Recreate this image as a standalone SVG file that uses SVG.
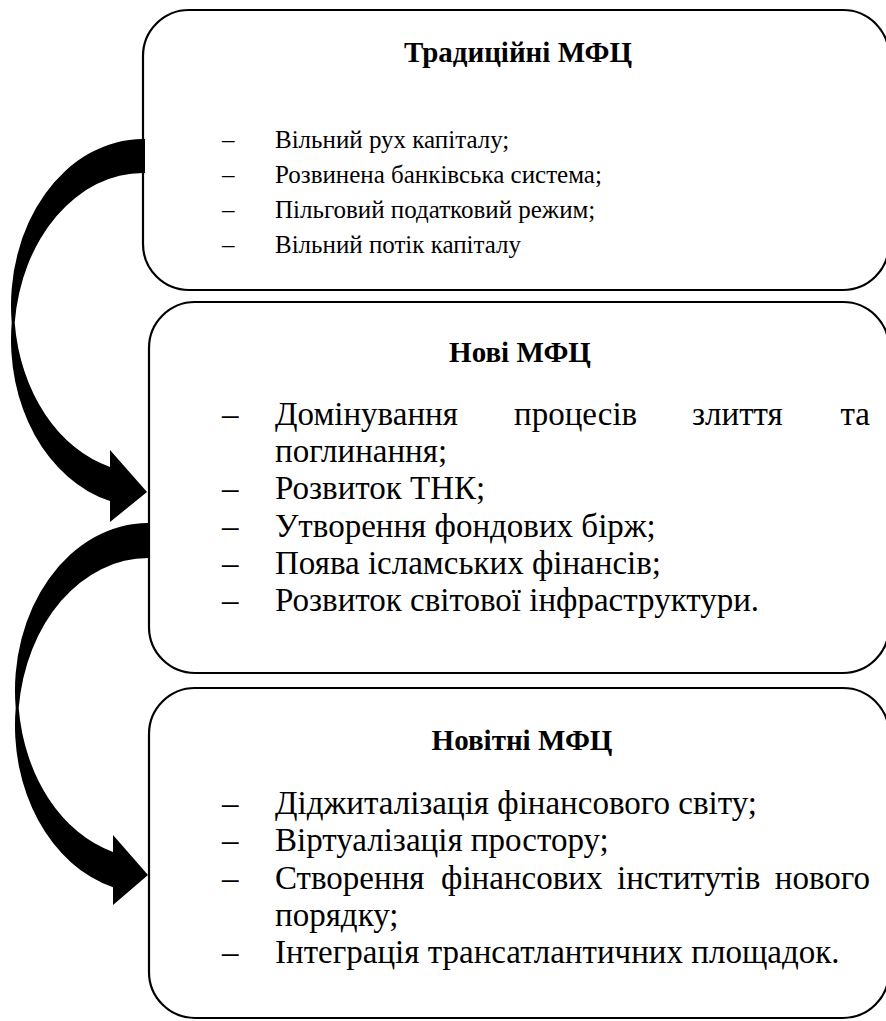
<svg xmlns="http://www.w3.org/2000/svg" width="886" height="1021" viewBox="0 0 886 1021">
<rect width="886" height="1021" fill="#fff"/>
<g id="node-traditional">
<rect x="143" y="10" width="746" height="280" rx="46" ry="46" fill="#fff" stroke="#000" stroke-width="2.2"/>
<text font-family="'Liberation Serif', serif" font-size="29" font-weight="bold" text-anchor="middle" x="518" y="62">Традиційні МФЦ</text>
<text font-family="'Liberation Serif', serif" font-size="25" x="222" y="148">–</text><text font-family="'Liberation Serif', serif" font-size="25" x="275" y="148">Вільний рух капіталу;</text>
<text font-family="'Liberation Serif', serif" font-size="25" x="222" y="183">–</text><text font-family="'Liberation Serif', serif" font-size="25" x="275" y="183">Розвинена банківська система;</text>
<text font-family="'Liberation Serif', serif" font-size="25" x="222" y="218">–</text><text font-family="'Liberation Serif', serif" font-size="25" x="275" y="218">Пільговий податковий режим;</text>
<text font-family="'Liberation Serif', serif" font-size="25" x="222" y="253">–</text><text font-family="'Liberation Serif', serif" font-size="25" x="275" y="253">Вільний потік капіталу</text>
</g>
<g id="node-new">
<rect x="149" y="302" width="740" height="371" rx="46" ry="46" fill="#fff" stroke="#000" stroke-width="2.2"/>
<text font-family="'Liberation Serif', serif" font-size="29" font-weight="bold" text-anchor="middle" x="520" y="362">Нові МФЦ</text>
<text font-family="'Liberation Serif', serif" font-size="33" x="222" y="425">–</text>
<text font-family="'Liberation Serif', serif" font-size="33" x="275" y="425">Домінування</text>
<text font-family="'Liberation Serif', serif" font-size="33" x="514" y="425">процесів</text>
<text font-family="'Liberation Serif', serif" font-size="33" x="692" y="425">злиття</text>
<text font-family="'Liberation Serif', serif" font-size="33" text-anchor="end" x="870" y="425">та</text>
<text font-family="'Liberation Serif', serif" font-size="33" x="275" y="462">поглинання;</text>
<text font-family="'Liberation Serif', serif" font-size="33" x="222" y="499">–</text><text font-family="'Liberation Serif', serif" font-size="33" x="275" y="499">Розвиток ТНК;</text>
<text font-family="'Liberation Serif', serif" font-size="33" x="222" y="537">–</text><text font-family="'Liberation Serif', serif" font-size="33" x="275" y="537">Утворення фондових бірж;</text>
<text font-family="'Liberation Serif', serif" font-size="33" x="222" y="574">–</text><text font-family="'Liberation Serif', serif" font-size="33" x="275" y="574">Поява ісламських фінансів;</text>
<text font-family="'Liberation Serif', serif" font-size="33" x="222" y="611">–</text><text font-family="'Liberation Serif', serif" font-size="33" x="275" y="611">Розвиток світової інфраструктури.</text>
</g>
<g id="node-newest">
<rect x="149" y="688" width="740" height="330" rx="46" ry="46" fill="#fff" stroke="#000" stroke-width="2.2"/>
<text font-family="'Liberation Serif', serif" font-size="29" font-weight="bold" text-anchor="middle" x="522" y="750">Новітні МФЦ</text>
<text font-family="'Liberation Serif', serif" font-size="33" x="222" y="814">–</text><text font-family="'Liberation Serif', serif" font-size="33" x="275" y="814">Діджиталізація фінансового світу;</text>
<text font-family="'Liberation Serif', serif" font-size="33" x="222" y="851">–</text><text font-family="'Liberation Serif', serif" font-size="33" x="275" y="851">Віртуалізація простору;</text>
<text font-family="'Liberation Serif', serif" font-size="33" x="222" y="889">–</text>
<text font-family="'Liberation Serif', serif" font-size="33" x="275" y="889">Створення</text>
<text font-family="'Liberation Serif', serif" font-size="33" x="441" y="889">фінансових</text>
<text font-family="'Liberation Serif', serif" font-size="33" x="617" y="889">інститутів</text>
<text font-family="'Liberation Serif', serif" font-size="33" text-anchor="end" x="870" y="889">нового</text>
<text font-family="'Liberation Serif', serif" font-size="33" x="275" y="926">порядку;</text>
<text font-family="'Liberation Serif', serif" font-size="33" x="222" y="963">–</text><text font-family="'Liberation Serif', serif" font-size="33" x="275" y="963">Інтеграція трансатлантичних площадок.</text>
</g>
<g id="connectors" fill="#000">
<path d="M145,139 L143,139 A132,166.7 0 0 0 11.7,322.7 A132,166.7 0 0 0 110,501.1 L110,522 L147,492 L110,450 L110,466.9 A129,166.7 0 0 1 14.7,322.7 A129,166.7 0 0 1 143,173 L145,173 Z"/>
<path d="M150,523 L148,523 A133,167.6 0 0 0 15.7,708.1 A133,167.6 0 0 0 113,887.3 L113,905 L148,875 L113,835 L113,852 A130,167.6 0 0 1 18.7,708.1 A130,167.6 0 0 1 148,558 L150,558 Z"/>
</g>
</svg>
